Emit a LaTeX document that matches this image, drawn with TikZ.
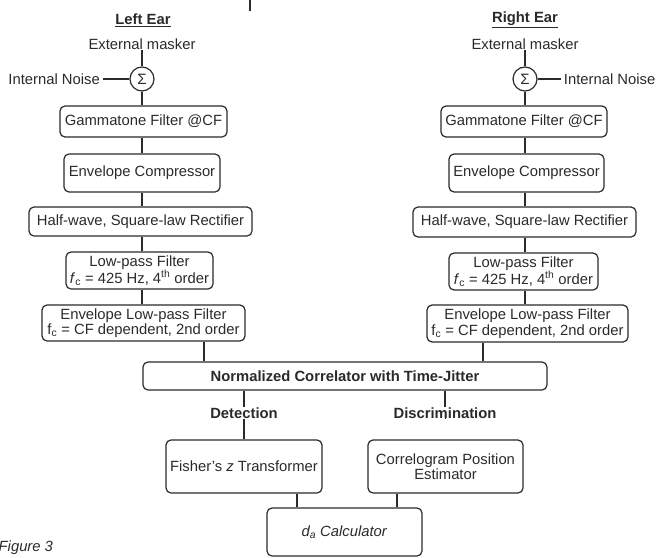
\documentclass[tikz,border=0pt]{standalone}
\usepackage{fontspec}
\setmainfont{Liberation Sans}
\definecolor{ink}{HTML}{2A2A2A}
\tikzset{
  px/.style={x=1pt,y=-1pt},
  blk/.style={draw=ink, line width=1.2pt, rounded corners=5pt, inner sep=0pt, align=center, text=ink},
  sumc/.style={draw=ink, line width=1.2pt, circle, minimum size=24pt, inner sep=0pt, text=ink},
  lbl/.style={inner sep=0pt, text=ink},
  conn/.style={draw=ink, line width=1.2pt},
}
\begin{document}
\begin{tikzpicture}[px, font=\fontsize{14.8}{15.5}\selectfont]
\useasboundingbox (0,0) rectangle (656,557);
% cropped fragment at the top
\fill[ink] (249.2,0) rectangle (251.4,11);
% headings
\node[lbl, font=\fontsize{14.8}{15.5}\selectfont\bfseries] (hdL) at (143,20) {\underline{Left Ear}};
\node[lbl, font=\fontsize{14.8}{15.5}\selectfont\bfseries] (hdR) at (525,20) {\underline{Right Ear}};
\node[lbl] (extL) at (142,44) {External masker};
\node[lbl] (extR) at (525,44) {External masker};
\node[sumc, font=\fontsize{15}{16}\selectfont] (sL) at (142,79) {Σ};
\node[sumc, font=\fontsize{15}{16}\selectfont] (sR) at (525,79) {Σ};
\node[lbl, anchor=east] (inL) at (100,79) {Internal Noise};
\node[lbl, anchor=east] (inR) at (655.5,79) {Internal Noise};
% left chain
\node[blk, minimum width=167pt, minimum height=31pt] (gL) at (143.5,121.5) {Gammatone Filter @CF};
\node[blk, minimum width=156pt, minimum height=38pt] (cL) at (142,173) {Envelope Compressor};
\node[blk, minimum width=223pt, minimum height=29pt] (hL) at (140.5,221.5) {Half-wave, Square-law Rectifier};
\node[blk, minimum width=147pt, minimum height=37pt] (lL) at (139.5,270.5) {Low-pass Filter\\\textit{f}\textsubscript{c} = 425 Hz, 4\textsuperscript{th} order};
\node[blk, minimum width=203pt, minimum height=36pt] (eL) at (143.5,323) {Envelope Low-pass Filter\\f\textsubscript{c} = CF dependent, 2nd order};
% right chain
\node[blk, minimum width=166pt, minimum height=31pt] (gR) at (524,121.5) {Gammatone Filter @CF};
\node[blk, minimum width=155pt, minimum height=38pt] (cR) at (526.5,173) {Envelope Compressor};
\node[blk, minimum width=223pt, minimum height=30pt] (hR) at (524.5,222) {Half-wave, Square-law Rectifier};
\node[blk, minimum width=149pt, minimum height=37pt] (lR) at (523.5,271.5) {Low-pass Filter\\\textit{f}\textsubscript{c} = 425 Hz, 4\textsuperscript{th} order};
\node[blk, minimum width=201pt, minimum height=37pt] (eR) at (527.5,323.5) {Envelope Low-pass Filter\\f\textsubscript{c} = CF dependent, 2nd order};
% lower part
\node[blk, minimum width=404pt, minimum height=28pt, font=\fontsize{14.8}{15.5}\selectfont\bfseries] (corr) at (345,376) {Normalized Correlator with Time-Jitter};
\node[lbl, font=\fontsize{14.8}{15.5}\selectfont\bfseries] (det) at (244,413) {Detection};
\node[lbl, font=\fontsize{14.8}{15.5}\selectfont\bfseries] (dis) at (445,413) {Discrimination};
\node[blk, minimum width=156pt, minimum height=53pt] (fish) at (244,466.5) {Fisher’s \textit{z} Transformer};
\node[blk, minimum width=155pt, minimum height=53pt] (cpe) at (445.5,466.5) {Correlogram Position\\Estimator};
\node[blk, minimum width=155pt, minimum height=48pt] (da) at (344.5,532) {\textit{d\textsubscript{a} Calculator}};
\node[lbl, anchor=base west, font=\fontsize{14.8}{15.5}\selectfont\itshape] (fig) at (-1.5,551) {Figure 3};
% connectors left
\draw[conn] (extL.south) -- (sL.north);
\draw[conn, shorten <=3pt] (inL.east) -- (sL.west);
\draw[conn] (sL.south) -- (sL.south |- gL.north);
\draw[conn] (gL.south -| sL) -- (cL.north -| sL);
\draw[conn] (cL.south -| sL) -- (hL.north -| sL);
\draw[conn] (hL.south -| sL) -- (lL.north -| sL);
\draw[conn] (lL.south -| sL) -- (eL.north -| sL);
% connectors right
\draw[conn] (extR.south) -- (sR.north);
\draw[conn, shorten >=3pt] (sR.east) -- (inR.west);
\draw[conn] (sR.south) -- (sR.south |- gR.north);
\draw[conn] (gR.south -| sR) -- (cR.north -| sR);
\draw[conn] (cR.south -| sR) -- (hR.north -| sR);
\draw[conn] (hR.south -| sR) -- (lR.north -| sR);
\draw[conn] (lR.south -| sR) -- (eR.north -| sR);
% into correlator
\coordinate (pL) at ([xshift=60.5pt]eL.south);
\coordinate (pR) at ([xshift=-44.5pt]eR.south);
\draw[conn] (pL) -- (pL |- corr.north);
\draw[conn] (pR) -- (pR |- corr.north);
% out of correlator
\draw[conn] (corr.south -| det) -- (det.north);
\draw[conn] (det.south) -- (fish.north);
\draw[conn] (corr.south -| dis) -- (dis.north);
\draw[conn] (dis.south) -- (dis.south -| cpe.north);
\coordinate (qL) at ([xshift=53pt]fish.south);
\coordinate (qR) at ([xshift=-48.5pt]cpe.south);
\draw[conn] (qL) -- (qL |- da.north);
\draw[conn] (qR) -- (qR |- da.north);
\end{tikzpicture}
\end{document}
